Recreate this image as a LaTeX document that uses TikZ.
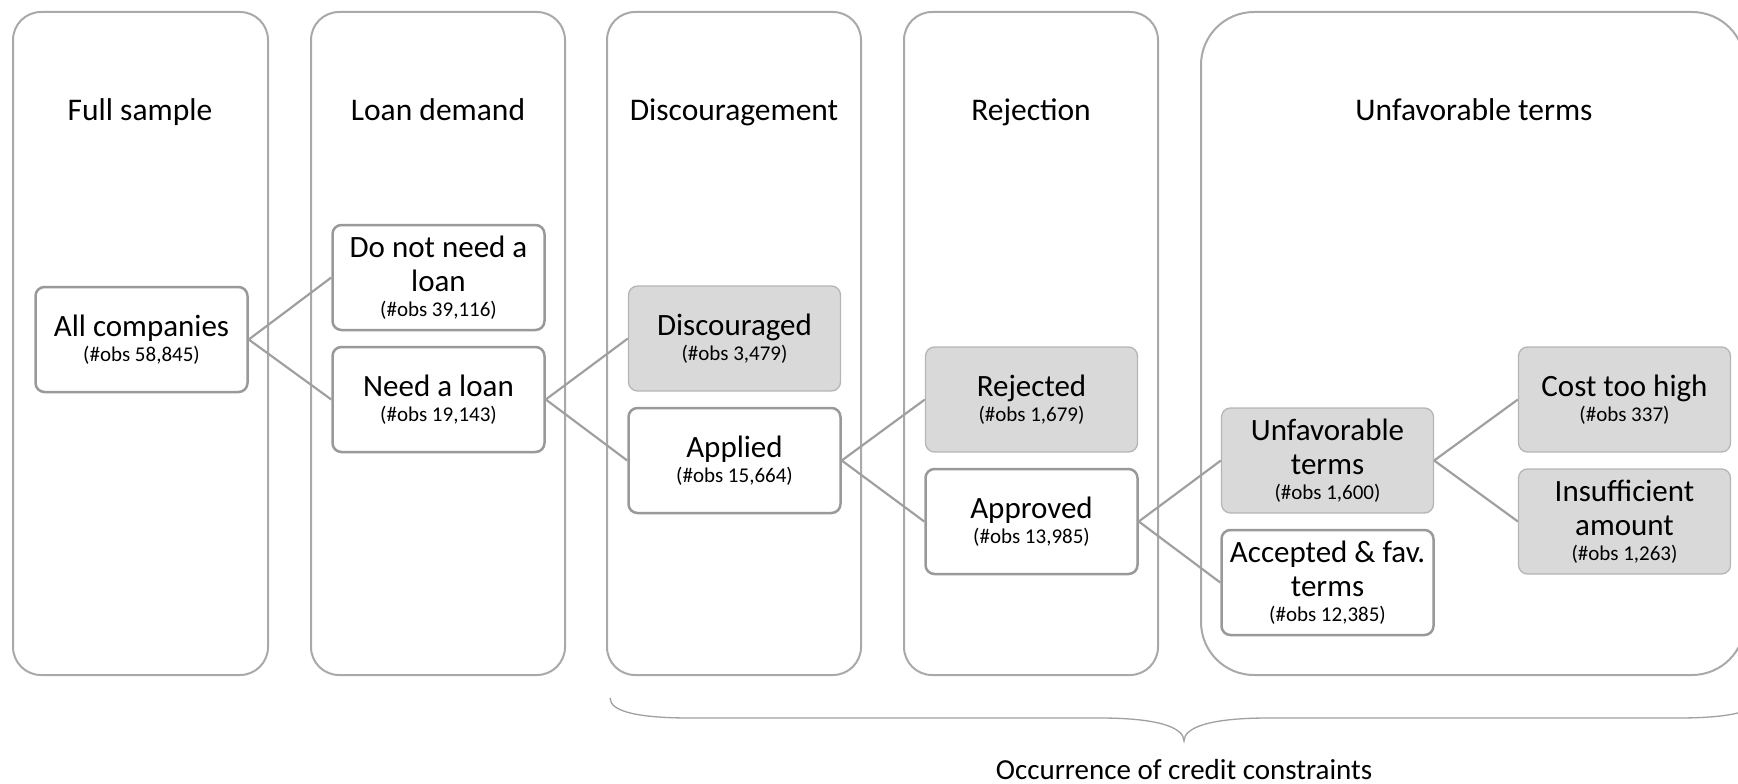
\documentclass[tikz,border=0pt]{standalone}
\usepackage{fontspec}
\setmainfont{Carlito}
\definecolor{framegrey}{HTML}{A9A9A9}
\definecolor{boxline}{HTML}{999999}
\definecolor{shadefill}{HTML}{D9D9D9}
\definecolor{shadeline}{HTML}{B5B5B5}
\definecolor{linkgrey}{HTML}{A0A0A0}
\newcommand{\obs}[1]{\\[-9pt]{\fontsize{21}{24}\selectfont(\#obs #1)}}

\begin{document}
\begin{tikzpicture}[x=1pt,y=-1pt,
  stage/.style={draw=framegrey, line width=2pt, rounded corners=28pt},
  item/.style={draw=boxline, line width=2.5pt, fill=white, rounded corners=9pt,
    minimum width=212pt, minimum height=105pt, align=center, inner sep=2pt,
    font=\fontsize{31}{34}\selectfont},
  shaded/.style={item, fill=shadefill, draw=shadeline, line width=1.3pt},
  link/.style={draw=linkgrey, line width=2.2pt},
  heading/.style={anchor=base, font=\fontsize{31.5}{34}\selectfont}]

\useasboundingbox (0,0) rectangle (1738,784);

% stages
\draw [stage] (13,12) rectangle (268,675);
\draw [stage] (311,12) rectangle (565,675);
\draw [stage] (607,12) rectangle (861,675);
\draw [stage] (904,12) rectangle (1158,675);
\draw [stage, rounded corners=53pt] (1201,12) rectangle (1745,675);

\node [heading] (tfull) at (140,121) {Full sample};
\node [heading] (tdemand) at (438,121) {Loan demand};
\node [heading] (tdisc) at (734,121) {Discouragement};
\node [heading] (trej) at (1031,121) {Rejection};
\node [heading] (tunfav) at (1474,121) {Unfavorable terms};

% boxes
\node [item] (all) at (141.5,339.5) {All companies\obs{58,845}};
\node [item] (noneed) at (438.5,277.5) {Do not need a\\loan\obs{39,116}};
\node [item] (need) at (438.5,399.5) {Need a loan\obs{19,143}};
\node [shaded] (discouraged) at (734.5,338.5) {Discouraged\obs{3,479}};
\node [item] (applied) at (734.5,460.5) {Applied\obs{15,664}};
\node [shaded] (rejected) at (1031.5,399.5) {Rejected\obs{1,679}};
\node [item] (approved) at (1031.5,521.5) {Approved\obs{13,985}};
\node [shaded] (unfav) at (1327.5,460.5) {Unfavorable\\terms\obs{1,600}};
\node [item] (accepted) at (1327.5,582.5) {Accepted \& fav.\\terms\obs{12,385}};
\node [shaded] (cost) at (1624.5,399.5) {Cost too high\obs{337}};
\node [shaded] (insuff) at (1624.5,521.5) {Insufficient\\amount\obs{1,263}};

\draw [link] (all.east) -- (noneed.west);
\draw [link] (all.east) -- (need.west);
\draw [link] (need.east) -- (discouraged.west);
\draw [link] (need.east) -- (applied.west);
\draw [link] (applied.east) -- (rejected.west);
\draw [link] (applied.east) -- (approved.west);
\draw [link] (approved.east) -- (unfav.west);
\draw [link] (approved.east) -- (accepted.west);
\draw [link] (unfav.east) -- (cost.west);
\draw [link] (unfav.east) -- (insuff.west);

% brace
\draw [linkgrey, line width=1.3pt] (610,698) .. controls (610,712) and (640,718) .. (690,718)
  -- (1100,718) .. controls (1160,718) and (1184,728) .. (1184,741)
  .. controls (1184,728) and (1208,718) .. (1268,718) -- (1678,718)
  .. controls (1728,718) and (1758,712) .. (1758,698);
\node [anchor=base, font=\fontsize{29}{32}\selectfont] (occur) at (1184,779) {Occurrence of credit constraints};
\end{tikzpicture}
\end{document}
